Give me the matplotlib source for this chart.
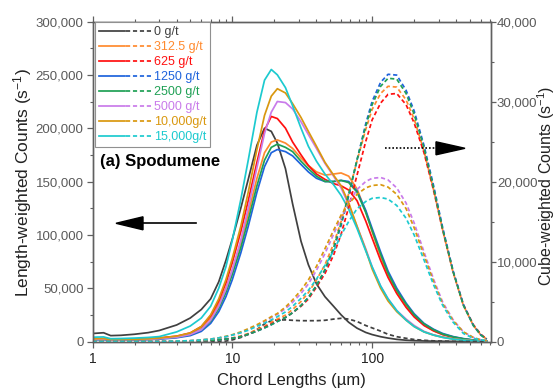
import matplotlib
matplotlib.use('Agg')
import matplotlib.pyplot as plt
from matplotlib.lines import Line2D
from matplotlib.legend_handler import HandlerTuple
from matplotlib.patches import Polygon
from matplotlib.ticker import FuncFormatter, MultipleLocator, LogLocator, FixedLocator, NullFormatter

plt.rcParams['font.family'] = ['Liberation Sans', 'DejaVu Sans']
plt.rcParams['mathtext.fontset'] = 'custom'
plt.rcParams['mathtext.rm'] = 'Liberation Sans'
plt.rcParams['mathtext.it'] = 'Liberation Sans:italic'
plt.rcParams['mathtext.bf'] = 'Liberation Sans:bold'

# ---------------- data ----------------
K = 1000.0
chord = [1, 1.2, 1.35, 1.6, 2, 2.5, 3, 4, 5, 6, 7, 8, 9, 10, 11.5, 13, 15, 17, 19, 21,
         24, 27, 31, 35, 40, 46, 53, 60, 68, 78, 90, 100, 115, 130, 150, 175, 200, 235,
         275, 320, 380, 450, 530, 600, 660]

labels = ["0 g/t", "312.5 g/t", "625 g/t", "1250 g/t", "2500 g/t", "5000 g/t",
          "10,000g/t", "15,000g/t"]
colors = ["#404040", "#FF8A2E", "#FF1010", "#1E63DC", "#1FA055", "#C97BEA",
          "#D9980F", "#1CCACF"]

# length-weighted counts (thousands, s^-1)
len_0 = [7.5, 8.2, 5.5, 5.8, 6.8, 8.3, 10.3, 15.5, 22, 30, 40, 56, 76, 96, 125, 152, 184, 200, 197, 186,
         162, 129, 94, 72, 54, 42, 33, 25, 18, 12.5, 8.5, 6.5, 4.5, 3.2, 2.0, 1.2, 0.8, 0.5,
         0.3, 0.2, 0.1, 0.05, 0.03, 0.02, 0.01]
len_312 = [2.3, 2.5, 1.7, 1.8, 2.0, 2.4, 3.0, 4.5, 7.5, 13, 22, 35, 50, 67, 93, 120, 153, 177, 187, 189,
           186, 181, 172, 165, 159, 156, 157, 158, 155, 143, 122, 103, 80, 62, 46, 33, 24, 15.5,
           10, 6.5, 4.0, 2.3, 1.2, 0.7, 0.4]
len_625 = [2.5, 2.7, 1.9, 2.0, 2.2, 2.6, 3.3, 5, 8, 14, 24, 38, 55, 74, 103, 132, 168, 198, 211, 209,
           200, 187, 175, 165, 157, 152, 148, 146, 142, 132, 113, 97, 76, 60, 45, 32, 23, 15,
           10, 6.5, 4.0, 2.3, 1.2, 0.7, 0.4]
len_1250 = [1.5, 1.7, 1.1, 1.2, 1.4, 1.7, 2.2, 3.5, 5.5, 9.5, 17, 28, 42, 58, 83, 108, 140, 164, 177, 180,
            178, 174, 166, 159, 153, 150, 150, 151, 150, 141, 123, 106, 84, 66, 50, 36, 26, 17,
            11.5, 7.5, 4.6, 2.7, 1.4, 0.8, 0.4]
len_2500 = [2.0, 2.2, 1.5, 1.6, 1.8, 2.1, 2.7, 4, 6.5, 11, 19, 31, 46, 63, 88, 114, 146, 170, 182, 185,
            182, 178, 169, 162, 155, 150, 150, 151, 149, 140, 121, 104, 82, 64, 48, 35, 25, 16.5,
            11, 7.0, 4.3, 2.5, 1.3, 0.8, 0.4]
len_5000 = [2.0, 2.2, 1.4, 1.5, 1.7, 2.0, 2.6, 4, 6.5, 11, 20, 33, 49, 67, 95, 125, 163, 195, 215, 225,
            224, 218, 206, 194, 181, 167, 155, 144, 128, 108, 87, 70, 52, 40, 29, 21, 15, 9.5,
            6.2, 4.2, 2.5, 1.4, 0.7, 0.4, 0.2]
len_10000 = [2.5, 2.7, 1.8, 1.9, 2.1, 2.5, 3.2, 5, 8, 14, 25, 40, 58, 78, 108, 140, 180, 212, 230, 237,
             233, 223, 210, 197, 183, 168, 156, 146, 130, 108, 86, 68, 50, 38, 28, 20, 14, 9,
             6, 4, 2.4, 1.3, 0.7, 0.4, 0.2]
len_15000 = [4.0, 4.3, 2.6, 2.8, 3.2, 3.8, 4.6, 9, 14.5, 22, 33, 50, 70, 95, 133, 170, 215, 245, 255, 250,
             238, 221, 200, 183, 169, 157, 147, 137, 124, 106, 85, 70, 52, 40, 29, 20, 14, 9,
             6, 3.8, 2.2, 1.2, 0.6, 0.3, 0.2]

# cube-weighted counts (thousands, s^-1)
cub_0 = [0, 0, 0, 0, 0, 0, 0, 0, 0, 0, 0, 0, 0.05, 0.2, 0.5, 0.9, 1.5, 2.2, 2.6, 2.7,
         2.7, 2.65, 2.6, 2.6, 2.6, 2.65, 2.8, 2.9, 2.8, 2.5, 2.0, 1.7, 1.3, 0.9, 0.6, 0.4, 0.25, 0.15,
         0.08, 0.05, 0.02, 0, 0, 0, 0]
cub_312 = [0, 0, 0, 0, 0, 0, 0, 0.02, 0.05, 0.1, 0.15, 0.22, 0.32, 0.45, 0.7, 1.0, 1.5, 1.9, 2.4, 2.8,
           3.3, 4.0, 5.0, 6.1, 7.7, 9.6, 12.2, 15.0, 18.5, 22.6, 26.5, 29.0, 31.0, 31.9, 31.8, 30.2, 27.8, 23.8,
           19.0, 13.9, 8.6, 4.5, 2.0, 0.8, 0.3]
cub_625 = [0, 0, 0, 0, 0, 0, 0, 0.02, 0.05, 0.1, 0.15, 0.2, 0.3, 0.4, 0.6, 0.9, 1.3, 1.8, 2.2, 2.6,
           3.0, 3.6, 4.4, 5.3, 6.8, 8.5, 10.8, 13.4, 16.8, 20.8, 25.0, 27.7, 29.8, 30.9, 31.0, 29.6, 27.3, 23.6,
           18.9, 13.9, 8.7, 4.6, 2.1, 0.9, 0.3]
cub_1250 = [0, 0, 0, 0, 0, 0, 0, 0.02, 0.05, 0.1, 0.15, 0.2, 0.3, 0.4, 0.6, 0.9, 1.3, 1.7, 2.1, 2.5,
            3.0, 3.6, 4.5, 5.5, 7.0, 8.9, 11.5, 14.5, 18.2, 22.7, 27.2, 30.0, 32.4, 33.4, 33.3, 31.4, 28.8, 24.5,
            19.5, 14.2, 8.8, 4.6, 2.0, 0.8, 0.3]
cub_2500 = [0, 0, 0, 0, 0, 0, 0, 0.02, 0.05, 0.1, 0.15, 0.2, 0.3, 0.4, 0.6, 0.9, 1.3, 1.7, 2.1, 2.5,
            3.0, 3.6, 4.5, 5.5, 7.0, 9.0, 11.7, 14.8, 18.4, 22.7, 26.9, 29.6, 31.9, 32.9, 32.8, 31.0, 28.4, 24.2,
            19.2, 14.0, 8.7, 4.5, 2.0, 0.8, 0.3]
cub_5000 = [0, 0, 0, 0, 0, 0, 0, 0.05, 0.1, 0.2, 0.3, 0.45, 0.6, 0.8, 1.1, 1.5, 2.0, 2.5, 3.0, 3.4,
            4.1, 4.9, 6.0, 7.2, 8.9, 11.0, 13.4, 15.5, 17.3, 19.0, 20.0, 20.4, 20.5, 20.2, 19.2, 17.3, 14.8, 11.2,
            7.8, 4.9, 2.7, 1.2, 0.5, 0.2, 0.1]
cub_10000 = [0, 0, 0, 0, 0, 0, 0, 0.05, 0.1, 0.2, 0.3, 0.45, 0.65, 0.85, 1.2, 1.6, 2.1, 2.6, 3.1, 3.5,
             4.3, 5.2, 6.4, 7.7, 9.4, 11.6, 13.9, 15.8, 17.2, 18.4, 19.2, 19.5, 19.6, 19.3, 18.4, 16.6, 14.2, 10.8,
             7.5, 4.7, 2.6, 1.2, 0.5, 0.2, 0.1]
cub_15000 = [0, 0, 0, 0, 0, 0, 0, 0.05, 0.1, 0.2, 0.3, 0.45, 0.6, 0.8, 1.1, 1.4, 1.9, 2.3, 2.7, 3.1,
             3.7, 4.4, 5.4, 6.4, 7.8, 9.5, 11.3, 13.3, 15.0, 16.6, 17.5, 17.9, 18.0, 17.8, 17.0, 15.4, 13.3, 10.2,
             7.1, 4.5, 2.4, 1.0, 0.4, 0.2, 0.1]

length_series = [len_0, len_312, len_625, len_1250, len_2500, len_5000, len_10000, len_15000]
cube_series = [cub_0, cub_312, cub_625, cub_1250, cub_2500, cub_5000, cub_10000, cub_15000]

# ---------------- figure ----------------
W, H = 557, 392
fig = plt.figure(figsize=(W / 100, H / 100), dpi=100)
x0, x1, y0, y1 = 92.5, 490.7, 341.5, 21.5
ax = fig.add_axes([x0 / W, 1 - y0 / H, (x1 - x0) / W, (y0 - y1) / H])
ax2 = ax.twinx()

LW = 1.25
DASH = (0, (2.4, 1.6))
for vals, c in zip(length_series, colors):
    ax.plot(chord, [v * K for v in vals], color=c, lw=LW, solid_joinstyle='round')
for vals, c in zip(cube_series, colors):
    ax2.plot(chord, [v * K for v in vals], color=c, lw=LW, linestyle=DASH)

ax.set_xscale('log')
ax.set_xlim(1, 705)
ax.set_ylim(0, 300000)
ax2.set_ylim(0, 40000)

ax.xaxis.set_major_locator(FixedLocator([1, 10, 100]))
ax.xaxis.set_major_formatter(FuncFormatter(lambda v, p: f"{v:g}"))
ax.xaxis.set_minor_locator(LogLocator(base=10, subs=[2, 3, 4, 5, 6, 7, 8, 9], numticks=20))
ax.xaxis.set_minor_formatter(NullFormatter())

ax.yaxis.set_major_locator(MultipleLocator(50000))
ax.yaxis.set_minor_locator(MultipleLocator(25000))
ax2.yaxis.set_major_locator(MultipleLocator(10000))
ax2.yaxis.set_minor_locator(MultipleLocator(5000))
fmt = FuncFormatter(lambda v, p: f"{v:,.0f}")
ax.yaxis.set_major_formatter(fmt)
ax2.yaxis.set_major_formatter(fmt)

spine_c = '#606060'
for a in (ax, ax2):
    for s in a.spines.values():
        s.set_color(spine_c)
        s.set_linewidth(1.0)
ax.tick_params(axis='x', which='both', direction='out', top=True, color=spine_c,
               labelcolor='#222222', labelsize=10, pad=3)
ax.tick_params(axis='x', which='major', length=4.5, width=0.9)
ax.tick_params(axis='x', which='minor', length=2.5, width=0.8)
ax.tick_params(axis='y', which='both', direction='out', color=spine_c,
               labelcolor='#5a5a5a', labelsize=9.5, pad=2)
ax.tick_params(axis='y', which='major', length=4.5, width=0.9)
ax.tick_params(axis='y', which='minor', length=2.5, width=0.8)
ax2.tick_params(axis='y', which='both', direction='out', color=spine_c,
                labelcolor='#5a5a5a', labelsize=9.5, pad=1)
ax2.tick_params(axis='y', which='major', length=3.5, width=0.9)
ax2.tick_params(axis='y', which='minor', length=2.2, width=0.8)

fig.text(22.5 / W, 1 - 183 / H, "Length-weighted Counts (s$^{-1}$)", rotation=90,
         ha='center', va='center', fontsize=12.5, color='#222222')
fig.text(546.5 / W, 1 - 186 / H, "Cube-weighted Counts (s$^{-1}$)", rotation=90,
         ha='center', va='center', fontsize=11.5, color='#222222')
fig.text(291 / W, 1 - 381 / H, "Chord Lengths (µm)", ha='center', va='center',
         fontsize=12, color='#222222')

# legend
handles = []
for c in colors:
    handles.append((Line2D([], [], color=c, lw=LW), Line2D([], [], color=c, lw=LW, linestyle=DASH)))
leg = ax2.legend(handles, labels, handler_map={tuple: HandlerTuple(ndivide=None, pad=0.15)},
                 loc='upper left', bbox_to_anchor=(0.006, 0.997), borderaxespad=0,
                 fontsize=9, handlelength=4.3, handletextpad=0.1, labelspacing=0.24,
                 borderpad=0.3, fancybox=False, framealpha=1, edgecolor='#909090')
leg.get_frame().set_linewidth(0.8)
for t, c in zip(leg.get_texts(), colors):
    t.set_color(c)

# annotation
def fx(px):
    return (px - x0) / (x1 - x0)

def fy(py):
    return (y0 - py) / (y0 - y1)

ax2.text(fx(100), fy(161.7), "(a) Spodumene", transform=ax2.transAxes, ha='left', va='center',
         fontsize=12, fontweight='bold', color='black')

# left arrow
ax2.plot([fx(140), fx(196)], [fy(223.3), fy(223.3)], color='black', lw=1.2, transform=ax2.transAxes)
ax2.add_patch(Polygon([[fx(116), fy(223.3)], [fx(143), fy(216.8)], [fx(143), fy(229.8)]],
                      closed=True, color='black', transform=ax2.transAxes))
# right arrow
ax2.plot([fx(385), fx(438)], [fy(148.3), fy(148.3)], color='black', lw=1.2, linestyle=(0, (1, 1.2)),
         transform=ax2.transAxes)
ax2.add_patch(Polygon([[fx(465), fy(148.3)], [fx(436), fy(141.8)], [fx(436), fy(154.8)]],
                      closed=True, color='black', transform=ax2.transAxes))

fig.savefig('out.png', dpi=100)
